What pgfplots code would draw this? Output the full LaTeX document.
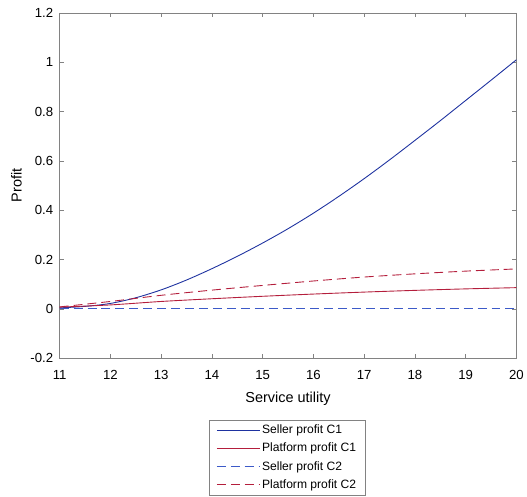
\documentclass[border=0pt]{standalone}
\usepackage{pgfplots}
\pgfplotsset{compat=1.18}
\usepackage{fontspec}
\setmainfont{Liberation Sans}
\definecolor{sb}{RGB}{30,50,160}
\definecolor{sbd}{RGB}{60,90,200}
\definecolor{pr}{RGB}{180,30,60}
\definecolor{axg}{RGB}{130,130,130}
\begin{document}
\begin{tikzpicture}
\path (-60bp,-139bp) rectangle (467bp,360bp);
\begin{axis}[
  at={(0,0)}, anchor=south west,
  scale only axis, width=459bp, height=347bp,
  xmin=11, xmax=20, ymin=-0.2, ymax=1.2,
  xtick={11,...,20},
  ytick={-0.2,0,0.2,0.4,0.6,0.8,1,1.2},
  yticklabels={-0.2,0,0.2,0.4,0.6,0.8,1,1.2},
  tick align=inside, tick pos=both,
  major tick length=4bp,
  axis line style={axg, line width=0.6pt},
  every tick/.style={axg, line width=0.6pt},
  tick label style={font=\fontsize{13.3}{15}\selectfont},
  xticklabel style={yshift=-9bp},
  yticklabel style={xshift=-3bp},
  /pgf/number format/assume math mode=true,
  xlabel={Service utility}, ylabel={Profit},
  label style={font=\fontsize{14.6}{17}\selectfont},
  xlabel style={yshift=-5bp},
  ylabel style={yshift=2bp},
  legend style={at={(0.3275,-0.1787)}, anchor=north west, draw=axg,
    font=\fontsize{12.2}{14.5}\selectfont, row sep=4bp,
    inner xsep=7bp, inner ysep=3bp},
  legend cell align=left,
  legend image code/.code={\draw[#1] (0bp,0bp) -- (43bp,0bp);},
]
\addplot[color=sb, line width=0.9pt, smooth] coordinates {
(11,0.004) (11.5,0.01) (12,0.022) (12.5,0.045) (13,0.077) (13.5,0.117) (14,0.163) (14.5,0.213) (15,0.267) (15.5,0.325) (16,0.388) (16.5,0.456) (17,0.528) (17.5,0.604) (18,0.683) (18.5,0.763) (19,0.845) (19.5,0.927) (20,1.01)};
\addlegendentry{Seller profit C1}
\addplot[color=pr, line width=0.9pt, smooth] coordinates {
(11,0.007) (12,0.016) (13,0.03) (14,0.041) (15,0.051) (16,0.06) (17,0.068) (18,0.075) (19,0.081) (20,0.086)};
\addlegendentry{Platform profit C1}
\addplot[color=sbd, line width=0.9pt, dash pattern=on 9bp off 5bp] coordinates {(11,0) (20,0)};
\addlegendentry{Seller profit C2}
\addplot[color=pr, line width=0.9pt, smooth, dash pattern=on 9bp off 5bp] coordinates {
(11,0.008) (12,0.03) (13,0.055) (14,0.076) (15,0.095) (16,0.113) (17,0.129) (18,0.142) (19,0.153) (20,0.162)};
\addlegendentry{Platform profit C2}
\end{axis}
\end{tikzpicture}
\end{document}
